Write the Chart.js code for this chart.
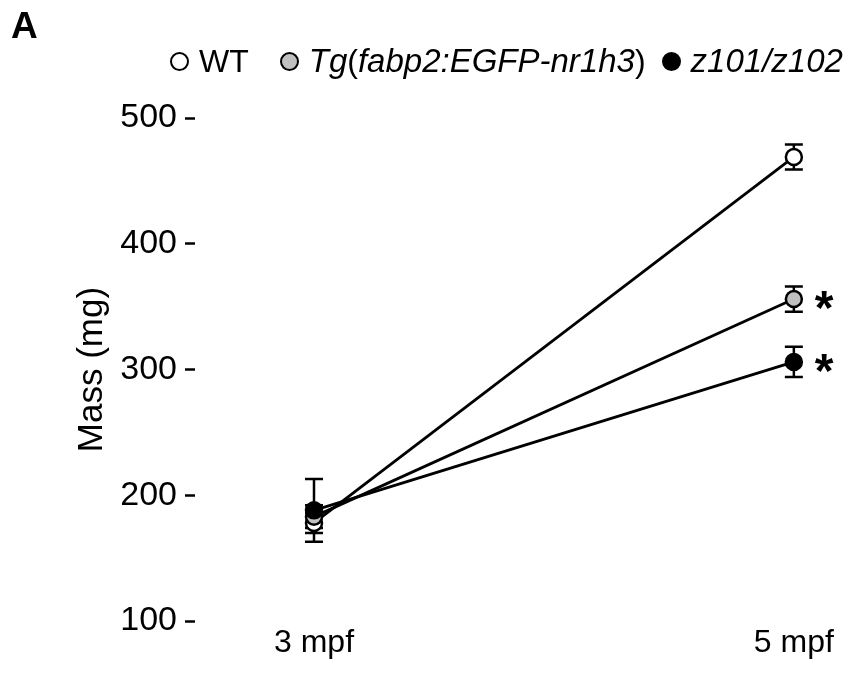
<!DOCTYPE html>
<html>
<head>
<meta charset="utf-8">
<script src="https://cdn.jsdelivr.net/npm/chart.js@4.4.1/dist/chart.umd.min.js"></script>
<style>
    body { margin: 0; background: #fff; font-family: "Liberation Sans", Arial, sans-serif; }
    #wrap { position: relative; width: 865px; height: 673px; }
    #panel { position: absolute; left: 11px; top: 5px; font-size: 37px; font-weight: bold; }
    #legend { position: absolute; top: 42px; left: 170px; font-size: 32px; display: flex; align-items: center; white-space: nowrap; }
    .item { display: flex; align-items: center; }
    .item i { font-size: 33px; }
    .dot { width: 15px; height: 15px; border: 2.5px solid #000; border-radius: 50%; margin-right: 10px; }
</style>
</head>
<body>
<div id="wrap">
    <canvas id="massChart" width="865" height="673"></canvas>
    <div id="panel">A</div>
    <div id="legend"></div>
</div>
<script>
const categories = ['3 mpf', '5 mpf'];
const seriesNames = ['WT', 'Tg(fabp2:EGFP-nr1h3)', 'z101/z102'];
const legendLabels = ['WT', '<i>Tg</i>(<i>fabp2:EGFP-nr1h3</i>)', '<i>z101/z102</i>'];
const wtMass = [178, 469];
const wtErr = [8, 10];
const tgMass = [183, 356];
const tgErr = [9, 10];
const mutMass = [188, 306];
const mutErr = [25, 12];
const significant = [[false, false], [false, true], [false, true]];
const yTicks = [100, 200, 300, 400, 500];
const fills = ['#ffffff', '#c0c0c0', '#000000'];
const legendGaps = [31, 16, 0];

// legend (html so the italics can be mixed)
const legend = document.getElementById('legend');
seriesNames.forEach((name, i) => {
    const item = document.createElement('div');
    item.className = 'item';
    item.style.marginRight = legendGaps[i] + 'px';
    item.innerHTML = '<span class="dot" style="background:' + fills[i] + '"></span><span>' + legendLabels[i] + '</span>';
    legend.appendChild(item);
});

function toPoints(values) {
    return values.map((v, i) => ({ x: i, y: v }));
}

const errorBars = {
    id: 'errorBars',
    beforeDatasetsDraw(chart) {
        const ctx = chart.ctx;
        const y = chart.scales.y;
        ctx.save();
        ctx.strokeStyle = '#000';
        ctx.lineWidth = 2.5;
        chart.data.datasets.forEach((ds, i) => {
            chart.getDatasetMeta(i).data.forEach((pt, j) => {
                const v = ds.data[j].y;
                const top = y.getPixelForValue(v + ds.err[j]);
                const bottom = y.getPixelForValue(v - ds.err[j]);
                ctx.beginPath();
                ctx.moveTo(pt.x, top);
                ctx.lineTo(pt.x, bottom);
                ctx.moveTo(pt.x - 9, top);
                ctx.lineTo(pt.x + 9, top);
                ctx.moveTo(pt.x - 9, bottom);
                ctx.lineTo(pt.x + 9, bottom);
                ctx.stroke();
            });
        });
        ctx.restore();
    },
    afterDatasetsDraw(chart) {
        const ctx = chart.ctx;
        ctx.save();
        ctx.fillStyle = '#000';
        ctx.font = 'bold 48px "Liberation Sans", Arial, sans-serif';
        ctx.textBaseline = 'alphabetic';
        chart.data.datasets.forEach((ds, i) => {
            chart.getDatasetMeta(i).data.forEach((pt, j) => {
                if (ds.sig[j]) ctx.fillText('*', pt.x + 21, pt.y + 25);
            });
        });
        ctx.restore();
    }
};

const allMass = [wtMass, tgMass, mutMass];
const allErr = [wtErr, tgErr, mutErr];

const ctx = document.getElementById('massChart').getContext('2d');
new Chart(ctx, {
    type: 'line',
    data: {
        datasets: seriesNames.map((name, i) => ({
            label: name,
            data: toPoints(allMass[i]),
            err: allErr[i],
            sig: significant[i],
            borderColor: '#000',
            borderWidth: 2.8,
            pointRadius: 8,
            pointBorderWidth: 2.5,
            pointBorderColor: '#000',
            pointBackgroundColor: fills[i],
            order: 2 - i
        }))
    },
    options: {
        responsive: false,
        animation: false,
        layout: { padding: { top: 118, right: 15, left: 0, bottom: 0 } },
        plugins: { legend: { display: false }, tooltip: { enabled: false } },
        scales: {
            x: {
                type: 'linear',
                min: -0.248,
                max: 1.117,
                afterBuildTicks: axis => { axis.ticks = categories.map((c, i) => ({ value: i })); },
                ticks: {
                    callback: v => categories[v],
                    font: { size: 32, family: '"Liberation Sans", Arial, sans-serif' },
                    color: '#000',
                    padding: 3,
                    maxRotation: 0,
                    autoSkip: false
                },
                grid: { display: false, drawTicks: false },
                border: { display: false },
                afterFit: axis => { axis.height = 52; }
            },
            y: {
                min: 100,
                max: 500,
                afterBuildTicks: axis => { axis.ticks = yTicks.map(v => ({ value: v })); },
                ticks: {
                    font: { size: 34, family: '"Liberation Sans", Arial, sans-serif' },
                    color: '#000',
                    padding: 8
                },
                grid: { drawOnChartArea: false, drawTicks: true, tickLength: 10, color: '#000', tickWidth: 2.5 },
                border: { display: false },
                title: {
                    display: true,
                    text: 'Mass (mg)',
                    font: { size: 35, family: '"Liberation Sans", Arial, sans-serif' },
                    color: '#000',
                    padding: { top: 71, bottom: 0 }
                },
                afterFit: axis => { axis.width = 195; }
            }
        }
    },
    plugins: [errorBars]
});
</script>
</body>
</html>
